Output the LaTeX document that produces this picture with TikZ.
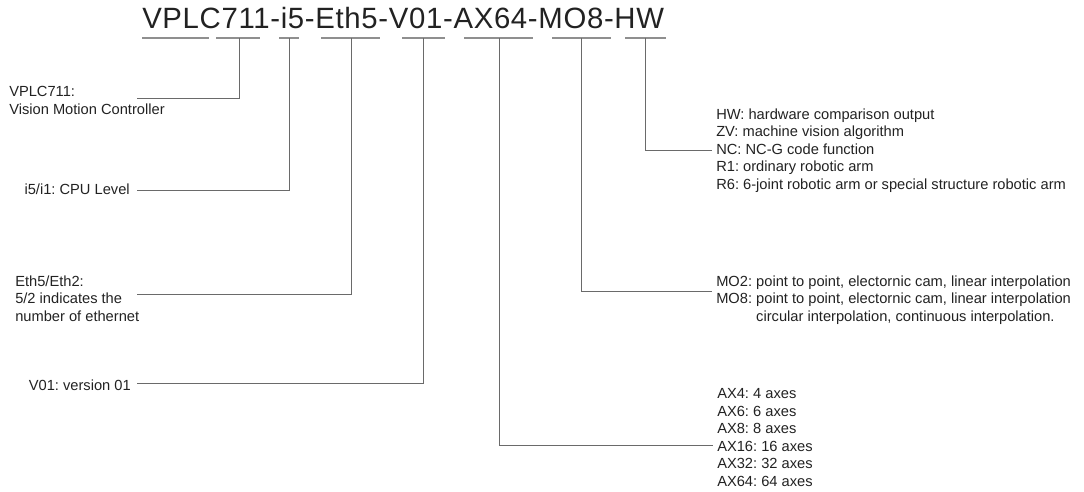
\documentclass[tikz,border=0pt]{standalone}
\usepackage{fontspec}
\setmainfont{Liberation Sans}
\newfontfamily\codefont[LetterSpace=2.3]{Liberation Sans}
\usepackage{tikz}
\definecolor{leadgray}{HTML}{6A6A6A}
\definecolor{inkgray}{HTML}{222222}
\frenchspacing

\tikzset{
 lbl/.style={inner sep=0pt, text=inkgray, align=left,
  font=\fontsize{11}{13.1}\selectfont},
 lead/.style={draw=leadgray, line width=0.75pt},
 uline/.style={draw=leadgray!75, line width=1.4pt},
}

\begin{document}
\begin{tikzpicture}[x=0.75pt,y=-0.75pt]
 \useasboundingbox (0,0) rectangle (1084,492);
 % the order code
 \node[anchor=base west, inner sep=0pt, text=inkgray,
  font=\codefont\fontsize{22}{26}\selectfont] (code) at (142,29)
  {VPLC711-i5-Eth5-V01-AX64-MO8-HW};
 \foreach \a/\b in {142/209, 216/260, 279/299, 321/380, 402/445, 464/533, 552/611, 625/666}
  \draw[uline] (\a,38) -- (\b,38);
 \coordinate (t711) at (239,38);
 \coordinate (ti5)  at (289,38);
 \coordinate (teth) at (351,38);
 \coordinate (tver) at (423,38);
 \coordinate (tax)  at (499,38);
 \coordinate (tmo)  at (581,38);
 \coordinate (thw)  at (645,38);

 % left side (base = last line)
 \node[lbl, anchor=base west] (vplc) at (9,114) {VPLC711:\\Vision Motion Controller};
 \node[lbl, anchor=base east] (cpu) at (130,194) {i5/i1: CPU Level};
 \node[lbl, anchor=base west] (eth) at (15,321) {Eth5/Eth2:\\5/2 indicates the\\number of ethernet};
 \node[lbl, anchor=base east] (ver) at (131,390) {V01: version 01};
 \coordinate (e711) at (137,98);
 \coordinate (ecpu) at (137,190);
 \coordinate (eeth) at (137,294);
 \coordinate (ever) at (137,383);

 % right side
 \node[lbl, anchor=base west] (hw) at (716,189) {HW: hardware comparison output\\
  ZV: machine vision algorithm\\NC: NC-G code function\\R1: ordinary robotic arm\\
  R6: 6-joint robotic arm or special structure robotic arm};
 \node[lbl, anchor=base west] (mo) at (716,321) {MO2: point to point, electornic cam, linear interpolation\\
  MO8: point to point, electornic cam, linear interpolation\\
  \hphantom{MO8: }circular interpolation, continuous interpolation.};
 \node[lbl, anchor=base west] (ax) at (717,486) {AX4: 4 axes\\AX6: 6 axes\\AX8: 8 axes\\
  AX16: 16 axes\\AX32: 32 axes\\AX64: 64 axes};
 \coordinate (ehw) at (712,150);
 \coordinate (emo) at (712,291);
 \coordinate (eax) at (713,445);

 % leaders
 \draw[lead] (t711) |- (e711);
 \draw[lead] (ti5)  |- (ecpu);
 \draw[lead] (teth) |- (eeth);
 \draw[lead] (tver) |- (ever);
 \draw[lead] (tax)  |- (eax);
 \draw[lead] (tmo)  |- (emo);
 \draw[lead] (thw)  |- (ehw);
\end{tikzpicture}
\end{document}
